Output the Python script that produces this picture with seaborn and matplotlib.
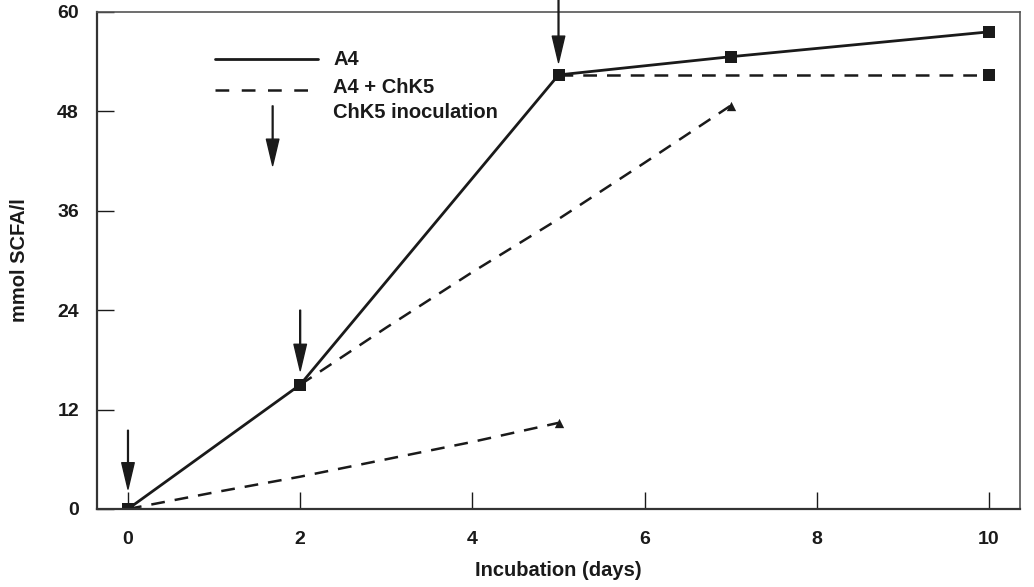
import matplotlib
matplotlib.use("Agg")
import matplotlib.pyplot as plt
import seaborn as sns
import pandas as pd
from matplotlib.lines import Line2D

# A4 alone
days_a4 = [0, 2, 5, 7, 10]
scfa_a4 = [0.0, 15.0, 52.4, 54.6, 57.6]

# A4 + ChK5, three segments (one per inoculation)
days_mix_early = [0, 1, 2, 3, 4, 5]
scfa_mix_early = [0.0, 2.0, 3.9, 6.0, 8.1, 10.4]
days_mix_mid = [2, 3, 4, 5, 6, 7]
scfa_mix_mid = [15.0, 21.9, 28.6, 35.0, 41.8, 48.7]
days_mix_late = [5, 10]
scfa_mix_late = [52.4, 52.4]

# ChK5 inoculation arrows: day, arrow top, arrow tip
inoc_days = [0, 2, 5]
inoc_top = [9.5, 24.0, 61.5]
inoc_tip = [2.4, 16.7, 53.9]

x_ticks = [0, 2, 4, 6, 8, 10]
y_ticks = [0, 12, 24, 36, 48, 60]

sns.set_theme(style="ticks")
plt.rcParams['font.family'] = ['Liberation Sans', 'DejaVu Sans']
plt.rcParams['font.weight'] = 'bold'

fig = plt.figure(figsize=(10.34, 5.87), dpi=100)
ax = fig.add_axes([0.0938, 0.1329, 0.8927, 0.8467])

ink = "#1a1a1a"
dash = (5.5, 4)

a4 = pd.DataFrame({"day": days_a4, "scfa": scfa_a4})
sns.lineplot(data=a4, x="day", y="scfa", ax=ax, color=ink, lw=2,
             marker="s", markersize=8, markeredgewidth=0)

for d, v in [(days_mix_early, scfa_mix_early), (days_mix_mid, scfa_mix_mid)]:
    seg = pd.DataFrame({"day": d, "scfa": v})
    sns.lineplot(data=seg, x="day", y="scfa", ax=ax, color=ink, lw=1.8,
                 linestyle=(0, dash))
    sns.scatterplot(x=[d[-1]], y=[v[-1]], ax=ax, color=ink, marker="^",
                    s=45, linewidth=0, zorder=5)

late = pd.DataFrame({"day": days_mix_late, "scfa": scfa_mix_late})
sns.lineplot(data=late, x="day", y="scfa", ax=ax, color=ink, lw=1.8,
             linestyle=(0, dash), marker="s", markersize=8,
             markeredgewidth=0)

arrow_kw = dict(facecolor=ink, edgecolor=ink, width=0.6, headwidth=9,
                headlength=19, shrink=0.0)
for d, top, tip in zip(inoc_days, inoc_top, inoc_tip):
    ax.annotate("", xy=(d, tip), xytext=(d, top), arrowprops=arrow_kw,
                annotation_clip=False)

# hand-made legend
ax.add_line(Line2D([0.128, 0.239], [0.905, 0.905], transform=ax.transAxes,
                   color=ink, lw=2))
ax.add_line(Line2D([0.128, 0.239], [0.843, 0.843], transform=ax.transAxes,
                   color=ink, lw=1.8, linestyle=(0, (5.5, 5))))
ax.text(0.2557, 0.905, "A4", transform=ax.transAxes, va="center",
        fontsize=14.5, fontweight="bold", color=ink)
ax.text(0.2557, 0.848, "A4 + ChK5", transform=ax.transAxes, va="center",
        fontsize=14.5, fontweight="bold", color=ink)
ax.text(0.2557, 0.797, "ChK5 inoculation", transform=ax.transAxes,
        va="center", fontsize=14.5, fontweight="bold", color=ink)
ax.annotate("", xy=(0.1903, 0.691), xytext=(0.1903, 0.811),
            xycoords="axes fraction", arrowprops=arrow_kw)

ax.set_xlim(-0.36, 10.36)
ax.set_ylim(0, 60)
ax.set_xticks(x_ticks)
ax.set_yticks(y_ticks)
ax.tick_params(axis="x", direction="in", length=12, width=1, pad=16,
               labelsize=14, colors=ink)
ax.tick_params(axis="y", direction="in", length=12, width=1, pad=13,
               labelsize=14, colors=ink)
for lab in ax.get_xticklabels() + ax.get_yticklabels():
    lab.set_fontweight("bold")

for side in ["left", "bottom"]:
    ax.spines[side].set_linewidth(1.6)
    ax.spines[side].set_color("#333333")
for side in ["top", "right"]:
    ax.spines[side].set_visible(True)
    ax.spines[side].set_linewidth(1.2)
    ax.spines[side].set_color("#555555")

ax.set_xlabel("Incubation (days)", fontsize=14.5, fontweight="bold",
              color=ink, labelpad=9)
ax.set_ylabel("mmol SCFA/l", fontsize=14.5, fontweight="bold", color=ink,
              labelpad=20)

fig.savefig("out.png", dpi=100)
